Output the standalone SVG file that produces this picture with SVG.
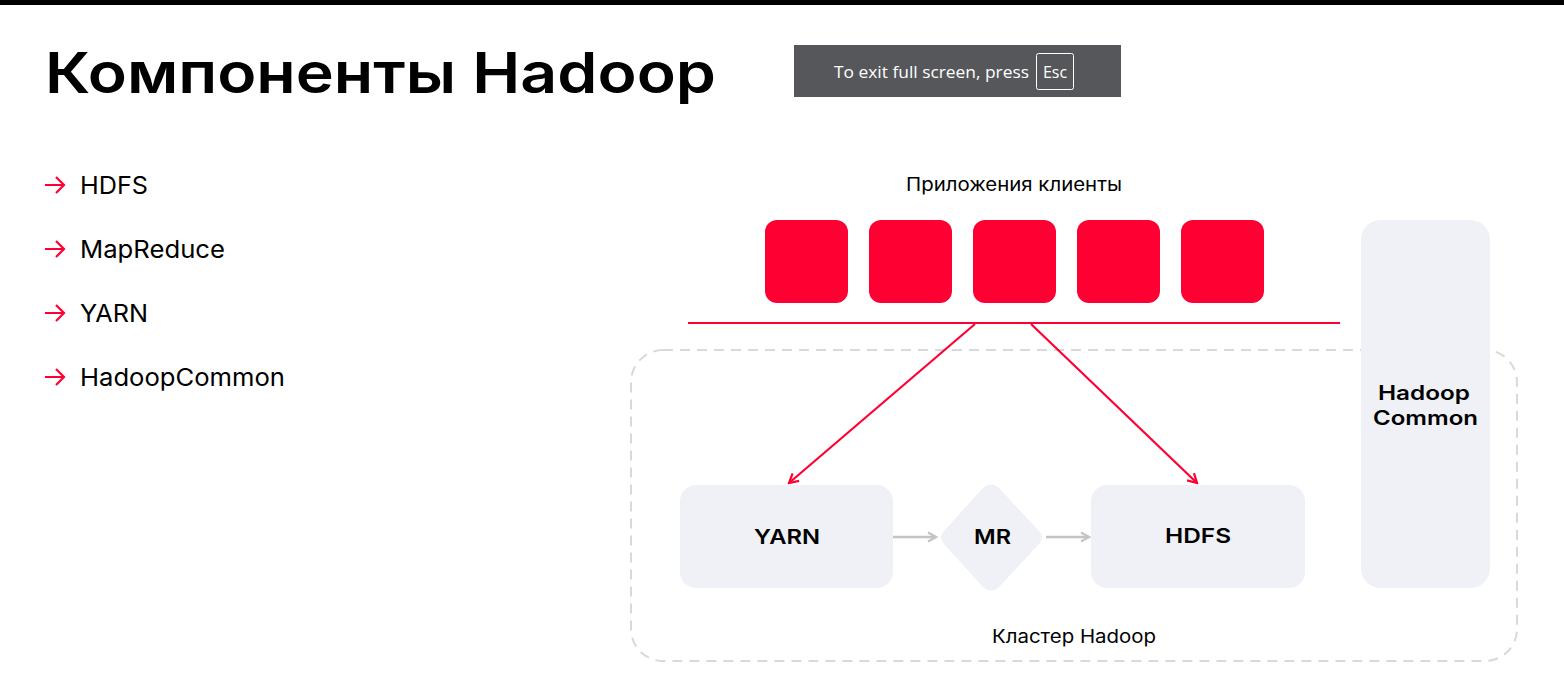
<svg xmlns="http://www.w3.org/2000/svg" width="1564" height="693" viewBox="0 0 1564 693">
<style>
.t{font-family:Inter,"Liberation Sans",sans-serif;fill:#000}
.li{font-size:24.5px}
.lbl{font-size:18.5px}
.nd{font-size:20px;font-weight:600;text-anchor:middle}
.red{fill:#ff0033}
.gray{fill:#f0f1f6}
.rl{stroke:#ff0033;stroke-width:2.2;fill:none}
.gl{stroke:#c4c4c4;stroke-width:2.5;fill:none}
</style>
<defs>
<marker id="ar" viewBox="0 0 12 12" refX="10" refY="6" markerWidth="12" markerHeight="12" markerUnits="userSpaceOnUse" orient="auto">
<path d="M1,1 L10,6 L1,11" fill="none" stroke="#ff0033" stroke-width="2.2"/>
</marker>
<marker id="ag" viewBox="0 0 12 12" refX="10" refY="6" markerWidth="12" markerHeight="12" markerUnits="userSpaceOnUse" orient="auto">
<path d="M2,1.5 L10,6 L2,10.5" fill="none" stroke="#c4c4c4" stroke-width="2.2"/>
</marker>
</defs>
<rect width="1564" height="693" fill="#fff"/>
<rect width="1564" height="5" fill="#000"/>
<text class="t" x="45" y="93" font-size="56" font-weight="600" textLength="671" lengthAdjust="spacingAndGlyphs">Компоненты Hadoop</text>
<g id="toast">
<rect x="794" y="45" width="327" height="52" fill="#55575b"/>
<text x="834" y="78" font-family="'Open Sans','DejaVu Sans',sans-serif" font-size="16" fill="#fff" textLength="195" lengthAdjust="spacingAndGlyphs">To exit full screen, press</text>
<rect x="1036.5" y="53.5" width="37" height="36" rx="2" fill="none" stroke="#fff" stroke-width="1"/>
<text x="1055" y="78" font-family="'Open Sans','DejaVu Sans',sans-serif" font-size="16" fill="#fff" text-anchor="middle">Esc</text>
</g>
<g id="list">
<g class="rl" stroke-width="2"><path d="M45,185 H64 M56,177 L64,185 L56,193"/><path d="M45,249 H64 M56,241 L64,249 L56,257"/><path d="M45,313 H64 M56,305 L64,313 L56,321"/><path d="M45,377 H64 M56,369 L64,377 L56,385"/></g>
<text class="t li" x="80" y="194" textLength="68" lengthAdjust="spacingAndGlyphs">HDFS</text>
<text class="t li" x="80" y="258" textLength="145" lengthAdjust="spacingAndGlyphs">MapReduce</text>
<text class="t li" x="80" y="322" textLength="68" lengthAdjust="spacingAndGlyphs">YARN</text>
<text class="t li" x="80" y="386" textLength="205" lengthAdjust="spacingAndGlyphs">HadoopCommon</text>
</g>
<g id="cluster">
<rect x="631" y="350" width="886" height="311" rx="32" fill="none" stroke="#d9d9d9" stroke-width="2" stroke-dasharray="10 7"/>
<text class="t lbl" x="992" y="643" textLength="164" lengthAdjust="spacingAndGlyphs">Кластер Hadoop</text>
</g>
<g id="clients">
<text class="t lbl" x="906" y="191" textLength="216" lengthAdjust="spacingAndGlyphs">Приложения клиенты</text>
<rect class="red" x="765" y="220" width="83" height="83" rx="12"/>
<rect class="red" x="869" y="220" width="83" height="83" rx="12"/>
<rect class="red" x="973" y="220" width="83" height="83" rx="12"/>
<rect class="red" x="1077" y="220" width="83" height="83" rx="12"/>
<rect class="red" x="1181" y="220" width="83" height="83" rx="12"/>
</g>
<g id="connectors">
<path class="rl" d="M688,323 H1340"/>
<path class="rl" d="M975,324 L789,483" marker-end="url(#ar)"/>
<path class="rl" d="M1031,324 L1197,483" marker-end="url(#ar)"/>
<path class="gl" d="M893,537 H936" marker-end="url(#ag)"/>
<path class="gl" d="M1046,537 H1089" marker-end="url(#ag)"/>
</g>
<g id="yarn">
<rect class="gray" x="680" y="485" width="213" height="103" rx="16"/>
<text class="t nd" x="787" y="544" textLength="66" lengthAdjust="spacingAndGlyphs">YARN</text>
</g>
<g id="mr">
<path class="gray" d="M982,489 Q991,480 1000,489 L1039,531 Q1045,537 1039,544 L1000,586 Q991,595 982,586 L944,544 Q938,537 944,531 Z"/>
<text class="t nd" x="992.5" y="544" textLength="37" lengthAdjust="spacingAndGlyphs">MR</text>
</g>
<g id="hdfs">
<rect class="gray" x="1091" y="485" width="214" height="103" rx="16"/>
<text class="t nd" x="1198" y="543" textLength="66" lengthAdjust="spacingAndGlyphs">HDFS</text>
</g>
<g id="common">
<rect class="gray" x="1361" y="220" width="129" height="368" rx="20"/>
<text class="t nd" x="1424" y="400" textLength="92" lengthAdjust="spacingAndGlyphs">Hadoop</text>
<text class="t nd" x="1425.5" y="425" textLength="105" lengthAdjust="spacingAndGlyphs">Common</text>
</g>
</svg>
